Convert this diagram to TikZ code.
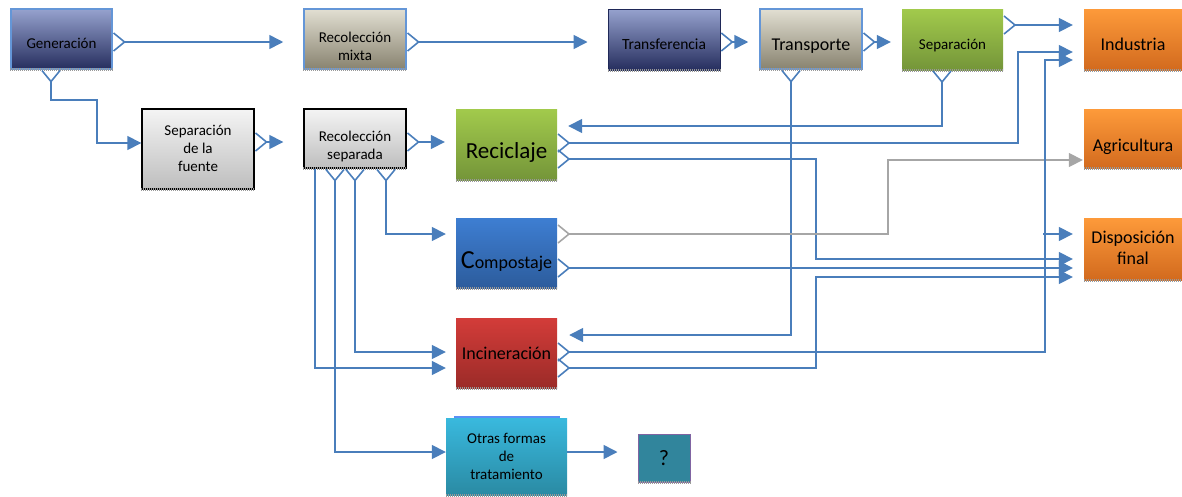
\documentclass[tikz,border=0pt]{standalone}
\usepackage{fontspec}
\setmainfont{Carlito}
\usepackage{xcolor}
\usepackage{tikz}
\usetikzlibrary{arrows.meta}

\definecolor{flowblue}{RGB}{74,126,187}
\definecolor{flowgrey}{RGB}{166,166,166}
\definecolor{rimblue}{RGB}{100,150,215}
\definecolor{navytop}{RGB}{150,162,206}
\definecolor{navybot}{RGB}{38,46,94}
\definecolor{navyrim}{RGB}{31,40,88}
\definecolor{sandtop}{RGB}{226,223,210}
\definecolor{sandbot}{RGB}{136,131,112}
\definecolor{greytop}{RGB}{244,244,244}
\definecolor{greybot}{RGB}{190,190,190}
\definecolor{greentop}{RGB}{162,202,76}
\definecolor{greenbot}{RGB}{116,149,57}
\definecolor{orangetop}{RGB}{253,154,58}
\definecolor{orangebot}{RGB}{210,106,30}
\definecolor{comptop}{RGB}{62,126,210}
\definecolor{compbot}{RGB}{44,92,156}
\definecolor{redtop}{RGB}{211,60,57}
\definecolor{redbot}{RGB}{155,43,40}
\definecolor{cyantop}{RGB}{57,185,222}
\definecolor{cyanbot}{RGB}{42,138,163}
\definecolor{striptop}{RGB}{91,143,245}
\definecolor{tealfill}{RGB}{49,133,156}
\definecolor{purplerim}{RGB}{128,100,162}

\newcommand{\boxtext}[2]{\raisebox{#1}[0pt][0pt]{\begin{tabular}{@{}c@{}}#2\end{tabular}}}
\newcommand{\normsize}{\fontsize{15}{18}\selectfont}
\newcommand{\midsize}{\fontsize{18}{21}\selectfont}

\tikzset{
  box/.style={rectangle, inner sep=0pt, font=\normsize},
  navybox/.style={box, top color=navytop, bottom color=navybot},
  sandbox/.style={box, draw=rimblue, line width=1.5pt, top color=sandtop, bottom color=sandbot},
  greybox/.style={box, draw=black, line width=1.4pt, top color=greytop, bottom color=greybot},
  greenbox/.style={box, top color=greentop, bottom color=greenbot},
  orangebox/.style={box, font=\midsize, top color=orangetop, bottom color=orangebot},
  crow/.style={draw=flowblue, line width=1.6pt, {Straight Barb[reversed,length=11pt,width=18pt]}-{Triangle[length=14pt,width=14pt]}},
  flow/.style={draw=flowblue, line width=1.6pt, -{Triangle[length=14pt,width=14pt]}},
  shadowline/.style={draw=gray!80, line width=3pt, dash pattern=on 1pt off 1pt}
}

\begin{document}
\begin{tikzpicture}[x=1pt,y=-1pt]
  \useasboundingbox (0,0) rectangle (1182,496);

  % top row
  \node[navybox, draw=rimblue, line width=1.5pt, minimum width=101pt, minimum height=60pt] (gen) at (61.5,39) {\boxtext{-9pt}{Generación}};
  \node[sandbox, minimum width=102pt, minimum height=60pt] (mixta) at (355,39) {\boxtext{-12.5pt}{Recolección\\mixta}};
  \node[navybox, draw=navyrim, line width=1pt, minimum width=112pt, minimum height=61pt] (transf) at (664,39.5) {\boxtext{-10pt}{\fontsize{15.5}{18}\selectfont Transferencia}};
  \node[sandbox, font=\midsize, minimum width=102pt, minimum height=60pt] (transp) at (811,39) {\boxtext{-12pt}{Transporte}};
  \node[greenbox, minimum width=101pt, minimum height=61pt] (sepa) at (952.5,39.5) {\boxtext{-10pt}{Separación}};
  \node[orangebox, minimum width=98pt, minimum height=61pt] (ind) at (1133,39.5) {\boxtext{-11.5pt}{Industria}};

  % second row and treatments
  \node[greybox, minimum width=112pt, minimum height=80pt] (fuente) at (198,149) {\boxtext{-4.5pt}{Separación\\de la\\fuente}};
  \node[greybox, minimum width=102pt, minimum height=59pt] (separada) at (355,138.5) {\boxtext{-12pt}{Recolección\\separada}};
  \node[greenbox, font=\fontsize{23}{27}\selectfont, minimum width=101pt, minimum height=71pt] (recic) at (506.5,144.5) {\boxtext{-14.5pt}{Reciclaje}};
  \node[orangebox, minimum width=98pt, minimum height=59pt] (agri) at (1133,139) {\boxtext{-13pt}{Agricultura}};
  \node[box, font=\midsize, top color=comptop, bottom color=compbot, minimum width=101pt, minimum height=70pt] (compost) at (506.5,253) {\boxtext{-14.5pt}{{\fontsize{26}{28}\selectfont C}ompostaje}};
  \node[orangebox, minimum width=98pt, minimum height=62pt] (disp) at (1133,249) {\boxtext{-5pt}{Disposición\\final}};
  \node[box, font=\midsize, top color=redtop, bottom color=redbot, minimum width=101pt, minimum height=70pt] (incin) at (506.5,353) {\boxtext{-7pt}{Incineración}};
  \node[box, top color=cyantop, bottom color=cyanbot, minimum width=121pt, minimum height=77pt] (otras) at (506.5,456.5) {\boxtext{-4.5pt}{Otras formas\\de\\tratamiento}};
  \fill[striptop] ([xshift=8pt]otras.north west) rectangle ([xshift=-7pt,yshift=2pt]otras.north east);
  \node[box, font=\fontsize{22}{26}\selectfont, fill=tealfill, draw=purplerim, line width=1pt, minimum width=52pt, minimum height=48pt] (quest) at (664,458) {\boxtext{-7pt}{?}};

  \foreach \n in {gen,mixta,transf,transp,sepa,ind,fuente,separada,recic,agri,compost,disp,incin,otras,quest}
    \draw[shadowline, yshift=-1.5pt] (\n.south west) -- (\n.south east);

  % main chain
  \draw[crow, shorten >=20pt] (gen.east |- 0,42) -- (mixta.west |- 0,42);
  \draw[crow] (gen.south -| 51,0) |- (97,100) |- (fuente.west |- 0,143);
  \draw[crow, shorten >=20pt] (mixta.east |- 0,42) -- (transf.west |- 0,42);
  \draw[crow, shorten >=11pt] (transf.east |- 0,42) -- (transp.west |- 0,42);
  \draw[crow, shorten >=11pt] (transp.east |- 0,42) -- (sepa.west |- 0,42);
  \draw[crow, shorten >=11pt] (sepa.east |- 0,25) -- (ind.west |- 0,25);
  \draw[crow, shorten >=11pt] (sepa.south -| 942,0) |- (recic.east |- 0,126);
  \draw[crow, shorten >=12pt] (transp.south -| 791,0) |- (incin.east |- 0,335);

  % separate collection
  \draw[crow, shorten >=20pt] (fuente.east |- 0,142) -- (separada.west |- 0,142);
  \draw[crow, shorten >=11pt] (separada.east |- 0,142) -- (recic.west |- 0,142);
  \draw[crow, shorten >=10pt] (separada.south -| 386,0) |- (compost.west |- 0,234);
  \draw[crow, shorten >=10pt] (separada.south -| 355,0) |- (incin.west |- 0,352);
  \draw[flow, shorten >=10pt] (separada.south -| 315,0) |- (incin.west |- 0,368);
  \draw[crow] (separada.south -| 335,0) |- (otras.west |- 0,452);

  % outputs of the treatments
  \draw[crow, shorten >=11pt] (recic.east |- 0,143) -- (1018,143) |- (ind.west |- 0,52);
  \draw[crow, shorten >=11pt] (recic.east |- 0,159) -- (816,159) |- (disp.west |- 0,259);
  \draw[crow, draw=flowgrey, shorten >=1pt] (compost.east |- 0,234) -- (888,234) |- (agri.west |- 0,160);
  \draw[crow, shorten >=11pt] (compost.east |- 0,268) -- (disp.west |- 0,268);
  \draw[crow, shorten >=11pt] (incin.east |- 0,352) -| (1045,60) -- (ind.west |- 0,60);
  \coordinate (fork) at (1043,234);
  \draw[flow, shorten >=11pt] (fork) -- (disp.west |- fork);
  \draw[crow, shorten >=11pt] (incin.east |- 0,368) -- (816,368) |- (disp.west |- 0,277);
  \draw[flow, shorten >=20pt] (otras.east |- 0,452) -- (quest.west |- 0,452);
\end{tikzpicture}
\end{document}
